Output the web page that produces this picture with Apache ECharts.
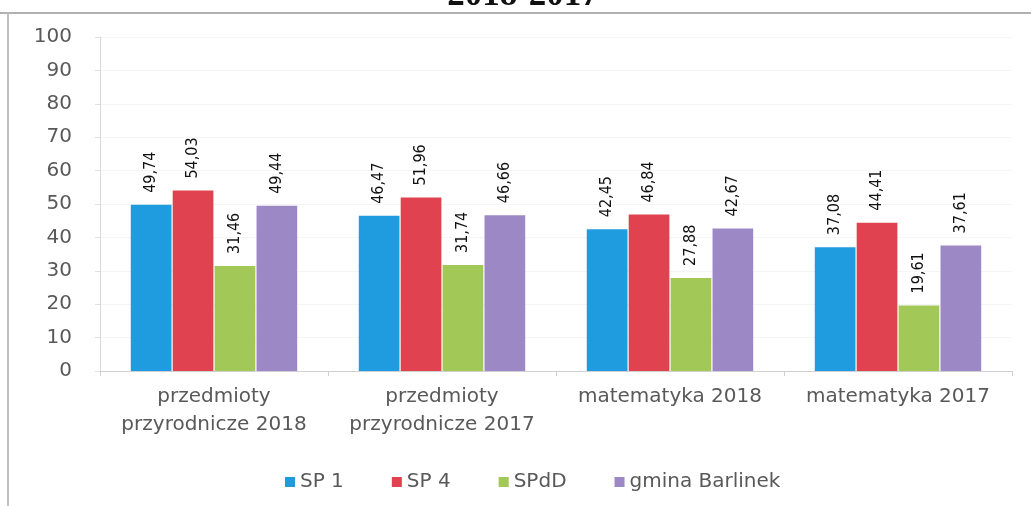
<!DOCTYPE html>
<html lang="pl">
  <head>
    <meta charset="UTF-8" />
    <title>Wyniki 2018-2017</title>
    <style>
      * {
        padding: 0;
        margin: 0;
      }
      html,
      body {
        width: 100%;
        height: 100%;
        background: #fff;
      }
      #main {
        width: 1031px;
        height: 506px;
      }
    </style>
  </head>
  <body>
    <div id="main"></div>
    <script src="https://cdn.jsdelivr.net/npm/echarts@6/dist/echarts.min.js"></script>
    <script>
      // dane
      var categories = [
        'przedmioty\nprzyrodnicze 2018',
        'przedmioty\nprzyrodnicze 2017',
        'matematyka 2018',
        'matematyka 2017'
      ];
      var sp1 = [49.74, 46.47, 42.45, 37.08];
      var sp4 = [54.03, 51.96, 46.84, 44.41];
      var spdd = [31.46, 31.74, 27.88, 19.61];
      var gmina = [49.44, 46.66, 42.67, 37.61];
      var yTicks = [0, 10, 20, 30, 40, 50, 60, 70, 80, 90, 100];

      var myChart = echarts.init(document.getElementById('main'));
      var labelFont = "'Liberation Sans Narrow', 'DejaVu Sans Condensed', sans-serif";
      var axisFont = "'DejaVu Sans', sans-serif";

      function makeSeries(name, data, color) {
        return {
          name: name,
          type: 'bar',
          data: data,
          barGap: '3%',
          barCategoryGap: '27%',
          itemStyle: { color: color },
          label: {
            show: true,
            position: 'top',
            rotate: 90,
            align: 'left',
            verticalAlign: 'middle',
            distance: 12,
            color: '#111',
            fontSize: 16,
            fontFamily: labelFont,
            formatter: function (p) {
              return p.value.toFixed(2).replace('.', ',');
            }
          }
        };
      }

      var option = {
        animation: false,
        graphic: [
          {
            type: 'text',
            style: {
              text: '2018-2017',
              x: 523,
              y: 13,
              textAlign: 'center',
              textVerticalAlign: 'bottom',
              font: "bold 35px 'Liberation Serif', serif",
              fill: '#111'
            }
          },
          {
            type: 'line',
            shape: { x1: 0, y1: 13, x2: 1031, y2: 13 },
            style: { stroke: '#b0b0b0', lineWidth: 2 }
          },
          {
            type: 'line',
            shape: { x1: 8, y1: 13, x2: 8, y2: 506 },
            style: { stroke: '#c0c0c0', lineWidth: 2 }
          }
        ],
        grid: {
          left: 100,
          right: 19,
          top: 37,
          bottom: 135
        },
        legend: {
          top: 467,
          left: 280,
          icon: 'rect',
          itemWidth: 10,
          itemHeight: 10,
          itemGap: 48,
          textStyle: {
            color: '#595959',
            fontSize: 20,
            fontFamily: axisFont
          }
        },
        xAxis: {
          type: 'category',
          data: categories,
          axisLine: { lineStyle: { color: '#d0d0d0' } },
          axisTick: { show: true, length: 5, lineStyle: { color: '#d0d0d0' } },
          axisLabel: {
            margin: 12,
            interval: 0,
            color: '#595959',
            fontSize: 20,
            lineHeight: 28,
            fontFamily: axisFont
          }
        },
        yAxis: {
          type: 'value',
          min: yTicks[0],
          max: yTicks[yTicks.length - 1],
          interval: 10,
          axisLine: { show: true, lineStyle: { color: '#d8d8d8' } },
          axisTick: { show: true, length: 5, lineStyle: { color: '#e0e0e0' } },
          splitLine: { lineStyle: { color: '#f5f5f5' } },
          axisLabel: {
            margin: 28,
            color: '#595959',
            fontSize: 20,
            fontFamily: axisFont
          }
        },
        series: [
          makeSeries('SP 1', sp1, '#1f9be0'),
          makeSeries('SP 4', sp4, '#e0434f'),
          makeSeries('SPdD', spdd, '#a2c857'),
          makeSeries('gmina Barlinek', gmina, '#9d88c6')
        ]
      };
      myChart.setOption(option);
    </script>
  </body>
</html>
